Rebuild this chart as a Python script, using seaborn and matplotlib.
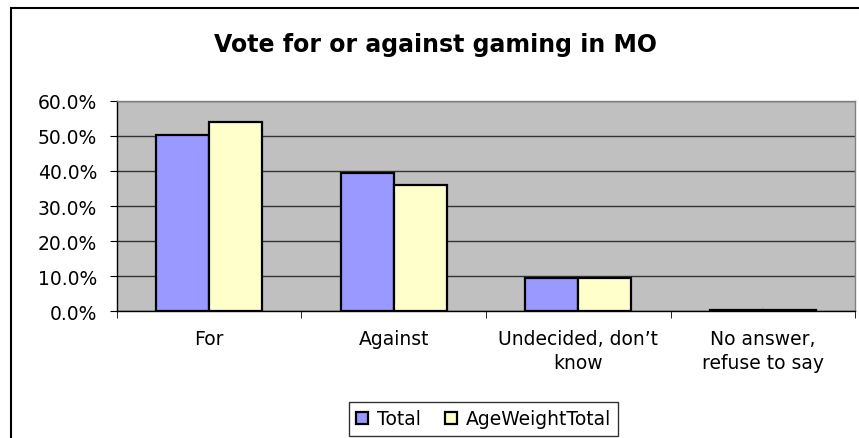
import seaborn as sns
import matplotlib.pyplot as plt
import pandas as pd
from matplotlib.patches import Rectangle
from matplotlib.ticker import FixedLocator, PercentFormatter

# values (percent)
categories = ['For', 'Against', 'Undecided, don\u2019t\nknow', 'No answer,\nrefuse to say']
total = [50.3, 39.5, 9.4, 0.45]
age_weight_total = [53.8, 36.1, 9.4, 0.45]
series_names = ['Total', 'AgeWeightTotal']
yticks = [0, 10, 20, 30, 40, 50, 60]

df = pd.DataFrame({
    'category': categories * 2,
    'series': [series_names[0]] * 4 + [series_names[1]] * 4,
    'value': total + age_weight_total,
})

plt.rcParams['font.family'] = ['DejaVu Sans']

fig = plt.figure(figsize=(8.59, 4.39), dpi=100)
ax = fig.add_axes([0.1359, 0.2886, 0.8596, 0.4797])

sns.barplot(data=df, x='category', y='value', hue='series',
            palette=['#9999FF', '#FFFFCC'], saturation=1, width=0.575, gap=0,
            edgecolor='black', linewidth=1.6, ax=ax, zorder=3)

ax.set_facecolor('#C0C0C0')
ax.set_xlim(-0.5, 3.5)
ax.set_ylim(0, 60)
ax.set_yticks(yticks)
ax.yaxis.set_major_formatter(PercentFormatter(decimals=1))
ax.grid(axis='y', color='#333333', linewidth=1.0, zorder=0)
ax.set_axisbelow(True)

ax.xaxis.set_minor_locator(FixedLocator([-0.5, 0.5, 1.5, 2.5, 3.5]))
ax.tick_params(axis='x', which='major', length=0, pad=13, labelsize=13.5)
ax.tick_params(axis='x', which='minor', length=5, color='black', direction='out')
ax.tick_params(axis='y', length=5, color='black', labelsize=13.5, pad=9)
for lbl in ax.get_xticklabels():
    lbl.set_linespacing(1.3)
ax.set_xlabel('')
ax.set_ylabel('')

for side in ['top', 'right']:
    ax.spines[side].set_color('#808080')
    ax.spines[side].set_linewidth(1)
for side in ['left', 'bottom']:
    ax.spines[side].set_color('black')
    ax.spines[side].set_linewidth(1)

fig.text(0.5075, 1 - 45 / 439, 'Vote for or against gaming in MO', fontsize=17,
         fontweight='bold', ha='center', va='center')

leg = ax.legend(loc='center', bbox_to_anchor=(0.5629, 1 - 420 / 439), bbox_transform=fig.transFigure,
                ncol=2, frameon=True, fancybox=False, edgecolor='black', fontsize=13.5,
                handlelength=0.65, handleheight=0.65, handletextpad=0.45, columnspacing=1.3,
                borderpad=0.4)
leg.get_frame().set_linewidth(1)

# outer chart border
fig.patches.append(Rectangle((11 / 859, -0.1), 1.2, 1 - 9 / 439 + 0.1,
                             transform=fig.transFigure, fill=False,
                             edgecolor='black', linewidth=1.5))

fig.savefig('out.png', dpi=100)
